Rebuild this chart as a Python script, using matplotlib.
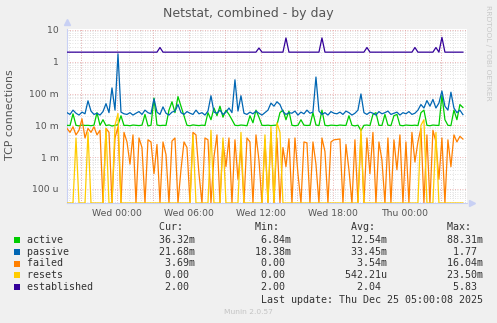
# Netstat, combined - by day (grafico estilo munin / rrdtool)

import matplotlib.pyplot as plt
import matplotlib.ticker as mticker
from matplotlib.patches import Rectangle
import numpy as np

# ---- dados (valores em unidades de "m" = 1e-3) ----
# uma amostra a cada 15 min, primeira amostra em Tue 19:50
t0_horas = -4.17
passo_horas = 0.25

passive_m = [25, 22, 30, 24, 21, 26, 23, 59, 28, 22,
             24, 21, 27, 48, 25, 150, 30, 1770, 26, 23,
             22, 25, 21, 24, 27, 22, 30, 25, 23, 68,
             26, 22, 38, 24, 21, 26, 28, 45, 25, 22,
             27, 24, 22, 30, 23, 25, 21, 28, 85, 26,
             24, 30, 22, 26, 35, 25, 270, 28, 85, 24,
             22, 26, 23, 28, 24, 21, 25, 30, 50, 40,
             55, 45, 27, 22, 25, 24, 28, 21, 26, 23,
             30, 24, 26, 330, 28, 22, 25, 21, 27, 24,
             23, 26, 22, 28, 25, 21, 24, 30, 97, 25,
             22, 26, 24, 21, 27, 23, 25, 28, 22, 24,
             26, 21, 25, 23, 27, 22, 24, 30, 45, 35,
             60, 40, 65, 35, 50, 120, 40, 30, 110, 35,
             25, 30, 21.68]

active_m = [10, 9.8, 23, 10, 9.6, 10.2, 9.9, 10, 9.7, 10.1,
            25, 10, 15, 9.8, 10.3, 9.5, 10, 10.4, 20, 9.9,
            10, 9.7, 10.2, 10, 9.8, 10.1, 22, 9.6, 10, 72,
            10.2, 9.8, 10, 9.9, 30, 55, 25, 80, 40, 20,
            10, 9.7, 10.3, 10, 9.8, 10.1, 9.9, 25, 15, 35,
            20, 40, 18, 30, 22, 15, 10, 9.8, 10.2, 10,
            9.7, 20, 12, 30, 18, 10, 9.9, 10.1, 9.8, 10,
            10.2, 25, 30, 15, 28, 10, 9.7, 10, 15, 10.1,
            9.9, 10, 25, 10.2, 9.8, 30, 10, 9.7, 10.1, 10,
            9.8, 10.2, 10, 9.9, 20, 10, 9.6, 10.1, 6.84, 10,
            10.2, 9.8, 22, 25, 10, 9.9, 22, 10.1, 9.8, 20,
            22, 10, 9.7, 10.2, 10, 9.9, 10.1, 9.8, 25, 30,
            10, 9.7, 10.2, 10, 9.9, 88.31, 15, 10, 9.8, 30,
            15, 45, 36.32]

failed_m = [8, 6, 9, 5, 7, 16.04, 4, 8, 6, 9,
            5, 7, 0, 8, 6, 0, 4, 9, 0, 6,
            3, 0.6, 5, 0, 4, 2, 0, 3.5, 3, 0.3,
            2.5, 0, 3, 1.2, 0, 3.2, 4, 0, 0.4, 3,
            2, 0, 6, 5, 0.3, 0, 4, 3.5, 0, 1,
            5, 0, 3, 0.5, 4, 0, 3.5, 0.2, 2, 0,
            4, 3, 0, 5, 0.8, 0, 3.5, 0, 6, 0,
            4, 0, 2, 0.5, 3.8, 0, 4, 0.3, 0, 3,
            2.8, 0, 3, 0.6, 0, 4, 1.5, 0, 3, 3.5,
            3.6, 3.7, 0, 2.5, 0.4, 0, 3.5, 0, 5, 0,
            4, 0.3, 6, 0, 3, 0.8, 0, 4, 0, 3.5,
            0.4, 5, 0, 3, 0, 6, 0.7, 3, 8, 0,
            5, 0, 7, 3, 0.2, 4, 0, 3.5, 0.5, 5,
            3, 4.5, 3.69]

# resets: zero quase sempre, picos nos indices abaixo
resets_picos_m = {3: 4.0, 7: 6.0, 13: 8.0, 16: 10.0, 17: 23.5, 42: 5.0,
                  48: 7.0, 52: 4.0, 58: 6.0, 66: 5.0, 68: 9.0, 70: 12.0,
                  71: 6.0, 98: 8.0, 118: 10.0, 119: 15.0, 123: 6.0}

# established: 2.00 com alguns picos
established_base = 2.0
established_picos = {31: 2.8, 64: 2.7, 73: 5.6, 85: 5.6, 100: 2.8,
                     116: 2.8, 123: 2.8, 125: 5.83}

nomes = ['active', 'passive', 'failed', 'resets', 'established']
cores = ['#00CC00', '#0066B3', '#FF8000', '#FFCC00', '#330099']
tabela = [['36.32m', '6.84m', '12.54m', '88.31m'],
          ['21.68m', '18.38m', '33.45m', '1.77 '],
          ['3.69m', '0.00 ', '3.54m', '16.04m'],
          ['0.00 ', '0.00 ', '542.21u', '23.50m'],
          ['2.00 ', '2.00 ', '2.04 ', '5.83 ']]

x_ticks = [0, 6, 12, 18, 24]
x_ticklabels = ['Wed 00:00', 'Wed 06:00', 'Wed 12:00', 'Wed 18:00', 'Thu 00:00']

# ---- montagem das series ----
n = len(passive_m)
horas = t0_horas + passo_horas * np.arange(n)
resets_m = np.zeros(n)
for i, v in resets_picos_m.items():
    resets_m[i] = v
established = np.full(n, established_base)
for i, v in established_picos.items():
    established[i] = v

series = [np.array(active_m) * 1e-3, np.array(passive_m) * 1e-3,
          np.array(failed_m) * 1e-3, resets_m * 1e-3, established]

# ---- figura ----
W, H = 497, 323
fig = plt.figure(figsize=(W / 100, H / 100), dpi=100, facecolor='#F0F0F0')
ax = fig.add_axes([67 / W, 1 - 203 / H, 400 / W, 174 / H])
ax.set_facecolor('white')

ymin, ymax = 3.6e-5, 10.7
ax.set_yscale('log')
ax.set_ylim(ymin, ymax)
ax.set_xlim(-4.17, 29.17)

# grade: menor cinza, maior rosada
ax.xaxis.set_minor_locator(mticker.MultipleLocator(1))
ax.xaxis.set_major_locator(mticker.FixedLocator(x_ticks))
for h in np.arange(-3, 29.5, 3):
    ax.axvline(h, color='#E8A0A0', lw=0.6, ls=(0, (1, 2)), zorder=1)
ax.grid(True, which='minor', axis='x', color='#D8D8D8', lw=0.6, ls=(0, (1, 2)))
ax.yaxis.set_minor_locator(mticker.LogLocator(base=10, subs=np.arange(2, 10)))
ax.grid(True, which='minor', axis='y', color='#D8D8D8', lw=0.6, ls=(0, (1, 2)))
ax.grid(True, which='major', axis='y', color='#E8A0A0', lw=0.6, ls=(0, (1, 2)))
ax.set_axisbelow(True)

for s, c in zip(series, cores):
    ax.plot(horas, np.clip(s, ymin, None), color=c, lw=0.9, zorder=3)

# eixos
for lado in ['top', 'right']:
    ax.spines[lado].set_visible(False)
ax.spines['left'].set_color('#C8D0F4')
ax.spines['bottom'].set_color('#C8D0F4')
ax.plot([0], [1.04], marker='^', color='#C8D0F4', markersize=5,
        transform=ax.transAxes, clip_on=False)
ax.plot([1.012], [0], marker='>', color='#C8D0F4', markersize=5,
        transform=ax.transAxes, clip_on=False)

rotulos_y = {10: '10', 1: '1', 0.1: '100 m', 0.01: '10 m', 1e-3: '1 m', 1e-4: '100 u'}
ax.yaxis.set_major_locator(mticker.FixedLocator(list(rotulos_y.keys())))
ax.yaxis.set_major_formatter(mticker.FuncFormatter(
    lambda v, p: min(rotulos_y.items(), key=lambda kv: abs(np.log10(kv[0]) - np.log10(v)))[1]))
ax.set_xticks(x_ticks)
ax.set_xticklabels(x_ticklabels)
ax.tick_params(axis='both', which='both', length=0, labelsize=6.7, labelcolor='#555555')
ax.tick_params(axis='y', pad=6)
ax.tick_params(axis='x', pad=4)

# textos
fig.text(248 / W, 1 - 13 / H, 'Netstat, combined - by day', ha='center', va='center',
         fontsize=9, color='#555555')
fig.text(10.5 / W, 1 - 115 / H, 'TCP connections', rotation=90, ha='center', va='center',
         fontsize=7.9, color='#555555')
fig.text(488 / W, 1 - 53 / H, 'RRDTOOL / TOBI OETIKER', rotation=270, ha='center',
         va='center', fontsize=5.4, color='#C8C8C8')

# legenda em fonte monoespacada
mono = dict(family='DejaVu Sans Mono', fontsize=7.2, color='#333333', va='center')
x_leg = 26.7 / W
cab = ' ' * 22 + 'Cur:' + ' ' * 12 + 'Min:' + ' ' * 12 + 'Avg:' + ' ' * 12 + 'Max:'
fig.text(x_leg, 1 - 227 / H, cab, **mono)
for k, (nome, cor, vals) in enumerate(zip(nomes, cores, tabela)):
    y = 239.7 + 11.9 * k
    linha = '{:<12}'.format(nome) + ''.join('{:>16}'.format(v) for v in vals)
    fig.text(x_leg, 1 - y / H, linha, **mono)
    fig.patches.append(Rectangle((14 / W, 1 - (y + 3) / H), 6 / W, 6 / H,
                                 transform=fig.transFigure, facecolor=cor,
                                 edgecolor='none'))
fig.text(483 / W, 1 - 299.7 / H, 'Last update: Thu Dec 25 05:00:08 2025',
         ha='right', **{k: v for k, v in mono.items()})
fig.text(248 / W, 1 - 312 / H, 'Munin 2.0.57', ha='center', va='center',
         fontsize=5.4, color='#C4C4C4')

plt.savefig('out.png', dpi=100, facecolor=fig.get_facecolor())
